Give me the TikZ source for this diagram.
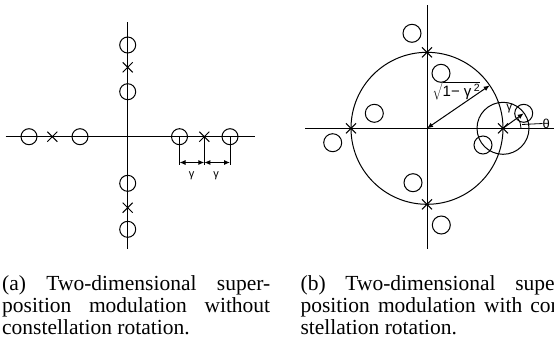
\documentclass[tikz,border=0pt]{standalone}
\usepackage{fontspec}
\setmainfont{Liberation Serif}
\newfontfamily\capfont{Liberation Serif}
\newfontfamily\labfont{Liberation Sans}
\usetikzlibrary{shapes.misc,arrows.meta}
\begin{document}
\begin{tikzpicture}[x=1pt,y=-1pt,
  ax/.style={line width=1pt},
  pt/.style={circle,draw,line width=1pt,minimum size=16pt,inner sep=0pt},
  ptb/.style={circle,draw,line width=1pt,minimum size=18pt,inner sep=0pt},
  xm/.style={cross out,draw,line width=1pt,minimum size=9pt,inner sep=0pt},
  dimarrow/.style={line width=1pt,{Latex[length=6pt,width=5pt]}-{Latex[length=6pt,width=5pt]}},
  lab/.style={font=\labfont\fontsize{11}{12}\selectfont,inner sep=0pt},
  captext/.style={font=\capfont\fontsize{21.5}{21.7}\selectfont,text width=268pt,align=justify,inner sep=0pt,anchor=north west}
]
\clip (0,0) rectangle (554,338);
% ---------- panel (a) ----------
\coordinate (aL) at (5.7,136.7);
\coordinate (aR) at (255,136.7);
\coordinate (aT) at (127.7,22);
\coordinate (aB) at (127.7,249);
\draw[ax] (aL) -- (aR);
\draw[ax] (aT) -- (aB);
\node[pt] (a1) at (127.7,45) {};
\node[xm] (ax1) at (127.7,67.3) {};
\node[pt] (a2) at (127.7,91.7) {};
\node[pt] (a3) at (127.7,183.3) {};
\node[xm] (ax2) at (127.7,207.7) {};
\node[pt] (a4) at (127.7,229.3) {};
\node[pt] (a5) at (29,136.7) {};
\node[xm] (ax3) at (52.3,136.7) {};
\node[pt] (a6) at (80,136.7) {};
\node[pt] (a7) at (179.5,136.7) {};
\node[xm] (ax4) at (204.3,136.7) {};
\node[pt] (a8) at (230,136.7) {};
\coordinate (d1) at (179.5,165);
\coordinate (d2) at (204.3,165);
\coordinate (d3) at (230,165);
\coordinate (e1) at (179.5,162.5);
\coordinate (e2) at (204.3,162.5);
\coordinate (e3) at (230,162.5);
\draw[ax] (a7.center) -- (d1);
\draw[ax] (ax4.center) -- (d2);
\draw[ax] (a8.center) -- (d3);
\draw[dimarrow] (e1) -- (e2);
\draw[dimarrow] (e2) -- (e3);
\node[lab] (g1) at (191.5,175.5) {γ};
\node[lab] (g2) at (216,175.5) {γ};
% ---------- panel (b) ----------
\coordinate (O) at (427,128.3);
\coordinate (bL) at (305.3,128.3);
\coordinate (bR) at (554,128.3);
\coordinate (bT) at (427,5);
\coordinate (bB) at (427,249);
\draw[ax] (bL) -- (bR);
\draw[ax] (bT) -- (bB);
\node[circle,draw,line width=1pt,minimum size=152pt,inner sep=0pt] (big) at (O) {};
\node[xm] (bx1) at (427,52.3) {};
\node[xm] (bx2) at (351,128.3) {};
\node[xm] (bx3) at (503,128.3) {};
\node[xm] (bx4) at (427,204.3) {};
\node[circle,draw,line width=1pt,minimum size=52pt,inner sep=0pt] (small) at (bx3.center) {};
\node[ptb] (c1) at (412,33.3) {};
\node[ptb] (c2) at (441,73.3) {};
\node[ptb] (c3) at (374.3,113.3) {};
\node[ptb] (c4) at (332.7,142.7) {};
\node[ptb] (c5) at (413,182.7) {};
\node[ptb] (c6) at (441.3,225) {};
\node[ptb] (c7) at (483,145) {};
\node[ptb] (c8) at (523.7,113.3) {};
\coordinate (rr) at (489.7,85.4);
\draw[dimarrow] (O) -- (rr);
\node[inner sep=0pt,font=\labfont\fontsize{15}{16}\selectfont] (sq) at (456.5,91) {$\sqrt{\mbox{\labfont\fontsize{15}{16}\selectfont 1− γ\,\textsuperscript{2}}}$};
\draw[line width=1pt,-{Latex[length=6pt,width=5pt]}] (bx3.center) -- (c8.center);
\node[lab,font=\labfont\fontsize{12}{13}\selectfont] (g3) at (509.3,108.5) {γ};
\draw[line width=0.8pt] (bx3.center) ++(18,0) arc[start angle=0,end angle=-35,radius=18];
\coordinate (t1) at (522,124.5);
\node[lab,font=\labfont\fontsize{13}{14}\selectfont,anchor=west] (th) at (542.5,123.5) {θ};
\draw[line width=0.8pt] (t1) -- (th.west);
% ---------- captions ----------
\node[captext] (capa) at (2,275.5) {(a) Two-dimensional super-\linebreak position modulation without\linebreak constellation rotation.};
\node[captext] (capb) at (300.4,275.5) {(b) Two-dimensional super-\linebreak position modulation with con-\linebreak stellation rotation.};
\end{tikzpicture}
\end{document}
